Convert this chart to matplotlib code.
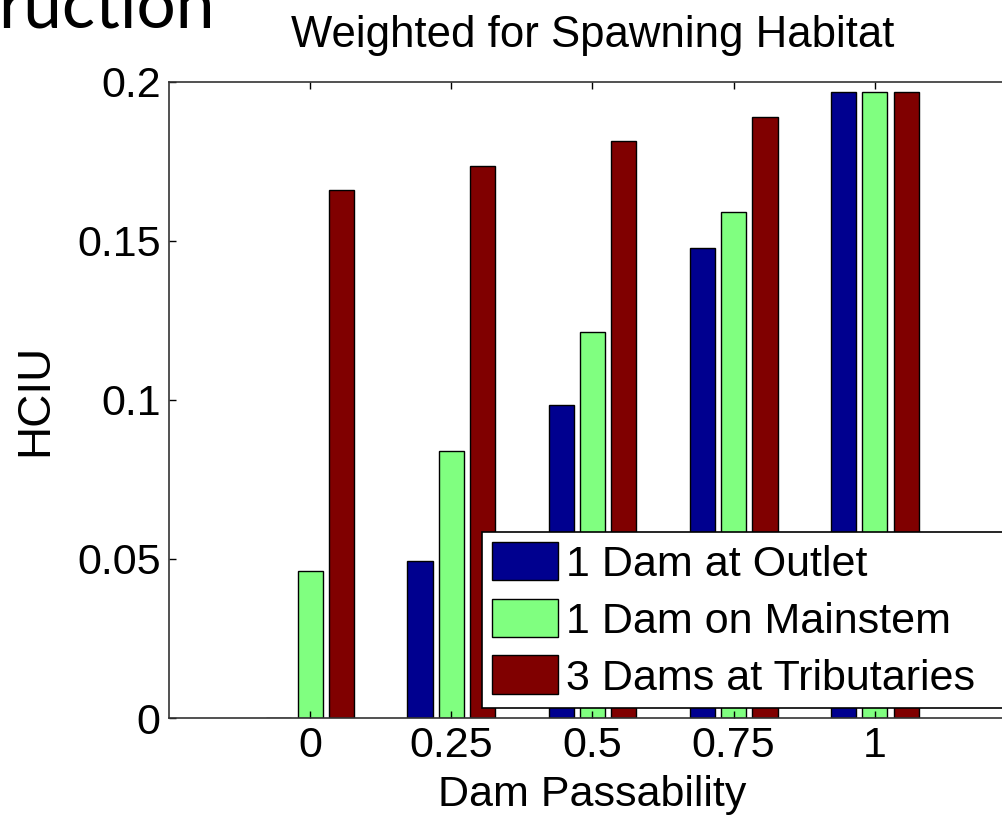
import numpy as np
import matplotlib
matplotlib.use("Agg")
import matplotlib.pyplot as plt

plt.rcParams['font.family'] = ['Liberation Sans', 'DejaVu Sans']

passability = ['0', '0.25', '0.5', '0.75', '1']
outlet = [0.0, 0.0493, 0.0984, 0.1478, 0.1966]
mainstem = [0.0462, 0.0839, 0.1214, 0.1591, 0.1966]
tributaries = [0.1659, 0.1735, 0.1813, 0.1890, 0.1966]
series_names = ['1 Dam at Outlet', '1 Dam on Mainstem', '3 Dams at Tributaries']
colors = ['#00008F', '#80FF80', '#800000']

fig = plt.figure(figsize=(10.03, 8.17), dpi=100)
ax = fig.add_axes([169 / 1003, 99 / 817, 847 / 1003, 636.5 / 817])

x = np.arange(1, len(passability) + 1)
width = 0.178
offset = 0.222
for i, (vals, name, col) in enumerate(zip([outlet, mainstem, tributaries], series_names, colors)):
    ax.bar(x + (i - 1) * offset, vals, width, color=col, edgecolor='black',
           linewidth=1.0, label=name)

ax.set_xlim(0, 6)
ax.set_ylim(0, 0.2)
ax.set_xticks(x)
ax.set_xticklabels(passability)
ax.set_yticks([0, 0.05, 0.1, 0.15, 0.2])
ax.set_yticklabels(['0', '0.05', '0.1', '0.15', '0.2'])
ax.tick_params(direction='in', length=5, width=1, labelsize=31,
               top=True, right=True, pad=6)
for s in ax.spines.values():
    s.set_linewidth(1.2)
    s.set_color('#333333')

ax.set_title('Weighted for Spawning Habitat', fontsize=31.5, pad=24.5)
ax.set_xlabel('Dam Passability', fontsize=31, labelpad=6)
ax.set_ylabel('HCIU', fontsize=33, labelpad=14)

# legend box runs past the right edge like in the cropped original
leg = ax.legend(loc='upper left',
                bbox_to_anchor=(482 / 1003, 1 - 709 / 817, (1015 - 482) / 1003, (709 - 532) / 817),
                bbox_transform=fig.transFigure, mode='expand', fontsize=31, frameon=True,
                fancybox=False, shadow=False, framealpha=1, edgecolor='black',
                borderaxespad=0, borderpad=0.23, handlelength=1.53, handleheight=1.0,
                handletextpad=0.2, labelspacing=0.32)
leg.get_frame().set_linewidth(1.2)

fig.text(-0.002, 1 - 27 / 817, 'ruction', fontsize=50, family=['Lato', 'DejaVu Sans'],
         ha='left', va='baseline')

fig.savefig('out.png', dpi=100)
